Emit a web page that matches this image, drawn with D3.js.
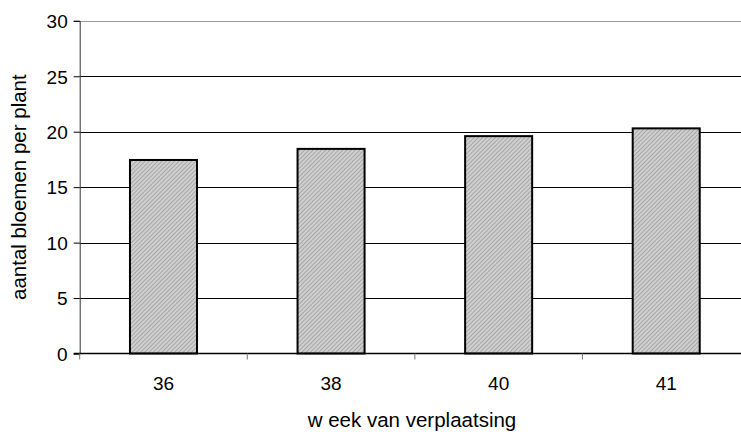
<!DOCTYPE html>
<html>
<head>
<meta charset="utf-8">
<script src="https://cdn.jsdelivr.net/npm/d3@7"></script>
<style>
    body { margin: 0; background: #fff; }
    text { font-family: "Liberation Sans", Arial, sans-serif; fill: #000; }
</style>
</head>
<body>
<div id="chart"></div>
<script>
// data
let weeks = ["36", "38", "40", "41"];
let flowers = [17.45, 18.45, 19.6, 20.3];
let yTicks = [0, 5, 10, 15, 20, 25, 30];

let W = 741, H = 435;
let margin = {top: 20.8, left: 79.7, bottom: 81.5};
let plotRight = 750; // plot area runs past the picture edge
let plotH = H - margin.top - margin.bottom;
let fontSize = "19px";
let titleSize = "20.5px";

let svg = d3.select("#chart").append("svg")
    .attr("width", W)
    .attr("height", H);

let defs = svg.append("defs");
let pat = defs.append("pattern")
    .attr("id", "hatch")
    .attr("patternUnits", "userSpaceOnUse")
    .attr("width", 3)
    .attr("height", 3)
    .attr("patternTransform", "rotate(45)");
pat.append("rect").attr("width", 3).attr("height", 3).attr("fill", "#cfcfcf");
pat.append("rect").attr("width", 1).attr("height", 3).attr("fill", "#a8a8a8");

let x = d3.scaleBand()
    .domain(weeks)
    .range([margin.left, plotRight])
    .paddingInner(0.6)
    .paddingOuter(0.3);

let y = d3.scaleLinear()
    .domain([0, 30])
    .range([margin.top + plotH, margin.top]);

// gridlines
svg.append("g")
    .selectAll("line")
    .data(yTicks.filter(d => d > 0))
    .enter()
    .append("line")
    .attr("x1", margin.left)
    .attr("x2", plotRight)
    .attr("y1", d => Math.round(y(d)) + 0.5)
    .attr("y2", d => Math.round(y(d)) + 0.5)
    .style("stroke", d => d === 30 ? "#999" : "#000")
    .style("stroke-width", 1);

// bars
svg.append("g")
    .selectAll("rect")
    .data(weeks)
    .enter()
    .append("rect")
    .attr("x", d => x(d))
    .attr("width", x.bandwidth())
    .attr("y", (d, i) => y(flowers[i]))
    .attr("height", (d, i) => y(0) - y(flowers[i]))
    .style("fill", "url(#hatch)")
    .style("stroke", "#000")
    .style("stroke-width", 2);

// y axis
let yAxis = svg.append("g")
    .attr("transform", "translate(" + margin.left + ",0)")
    .call(d3.axisLeft(y).tickValues(yTicks).tickSize(6).tickPadding(6));
yAxis.select(".domain").style("stroke", "#333");
yAxis.selectAll(".tick line").style("stroke", "#000");
yAxis.selectAll(".tick text")
    .style("font-size", fontSize)
    .attr("dy", "0.36em");

// x axis: ticks sit between the categories
let xAxis = svg.append("g")
    .attr("transform", "translate(0," + y(0) + ")");
xAxis.append("line")
    .attr("x1", margin.left - 6)
    .attr("x2", plotRight)
    .style("stroke", "#000")
    .style("stroke-width", 1.5);
let bounds = d3.range(weeks.length + 1).map(i => margin.left + i * (plotRight - margin.left) / weeks.length);
xAxis.selectAll("line.xt")
    .data(bounds)
    .enter()
    .append("line")
    .attr("class", "xt")
    .attr("x1", d => d)
    .attr("x2", d => d)
    .attr("y1", 0)
    .attr("y2", 6)
    .style("stroke", "#777");
xAxis.selectAll("text")
    .data(weeks)
    .enter()
    .append("text")
    .attr("x", d => x(d) + x.bandwidth() / 2)
    .attr("y", 36.5)
    .attr("text-anchor", "middle")
    .style("font-size", fontSize)
    .text(d => d);

// axis titles
svg.append("text")
    .attr("x", 412)
    .attr("y", 426.5)
    .attr("text-anchor", "middle")
    .style("font-size", titleSize)
    .text("w eek van verplaatsing");

svg.append("text")
    .attr("transform", "translate(26," + (margin.top + plotH / 2) + ") rotate(-90)")
    .attr("text-anchor", "middle")
    .style("font-size", titleSize)
    .text("aantal bloemen per plant");
</script>
</body>
</html>
